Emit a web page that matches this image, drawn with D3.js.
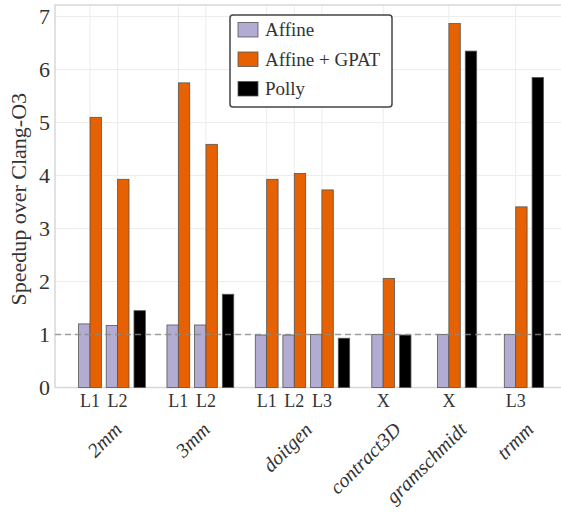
<!DOCTYPE html>
<html>
<head>
<meta charset="utf-8">
<script src="https://cdn.jsdelivr.net/npm/d3@7"></script>
<style>
  body { margin: 0; background: #fff; }
  text { font-family: "Liberation Serif", "DejaVu Serif", serif; fill: #333; }
</style>
</head>
<body>
<svg id="chart"></svg>
<script>
// benchmarks and their tile configurations
var groups = ["2mm", "3mm", "doitgen", "contract3D", "gramschmidt", "trmm"];
var configs = ["L1", "L2", "L1", "L2", "L1", "L2", "L3", "X", "X", "L3"];
var configGroup = [0, 0, 1, 1, 2, 2, 2, 3, 4, 5];
// x position of each config tick (units = spacing between two configs)
var configPos = [0, 1, 3.2, 4.2, 6.4, 7.4, 8.4, 10.62, 13.0, 15.42];
var pollyOffset = 0.8;

// speedup values
var affine = [1.2, 1.17, 1.18, 1.18, 0.99, 0.99, 1.0, 1.0, 1.0, 1.0];
var affineGpat = [5.1, 3.93, 5.75, 4.59, 3.93, 4.04, 3.73, 2.06, 6.87, 3.41];
var polly = [1.45, 1.76, 0.93, 0.99, 6.35, 5.85];

var yTicks = [0, 1, 2, 3, 4, 5, 6, 7];
var seriesNames = ["Affine", "Affine + GPAT", "Polly"];
var colors = ["#b2abd2", "#e66101", "#000000"];

var width = 561, height = 516;
var plot = { left: 55, right: 562, top: 5, bottom: 387.5 };

var svg = d3.select("#chart")
  .attr("width", width)
  .attr("height", height);

var x = d3.scaleLinear()
  .domain([0, 15.42])
  .range([90, 515.7]);

var y = d3.scaleLinear()
  .domain([0, 7.22])
  .range([plot.bottom, plot.top]);

var barW = x(0.413) - x(0);

// grid
svg.append("g")
  .selectAll("line")
  .data(yTicks)
  .enter().append("line")
  .attr("x1", plot.left).attr("x2", plot.right)
  .attr("y1", d => y(d)).attr("y2", d => y(d))
  .style("stroke", "#ececec")
  .style("stroke-width", 1);

svg.append("g")
  .selectAll("line")
  .data(configPos)
  .enter().append("line")
  .attr("x1", d => x(d)).attr("x2", d => x(d))
  .attr("y1", plot.top).attr("y2", plot.bottom)
  .style("stroke", "#ececec")
  .style("stroke-width", 1);

// frame
svg.append("path")
  .attr("d", "M" + plot.right + "," + plot.top + "H" + plot.left + "V" + plot.bottom + "H" + plot.right)
  .style("fill", "none")
  .style("stroke", "#d8d8d8")
  .style("stroke-width", 1.5);

// bars
var bars = svg.append("g");
bars.selectAll(".aff")
  .data(affine)
  .enter().append("rect")
  .attr("x", (d, i) => x(configPos[i]) - barW)
  .attr("y", d => y(d))
  .attr("width", barW)
  .attr("height", d => y(0) - y(d))
  .style("fill", colors[0])
  .style("stroke", "#555")
  .style("stroke-width", 0.8);

bars.selectAll(".gpat")
  .data(affineGpat)
  .enter().append("rect")
  .attr("x", (d, i) => x(configPos[i]))
  .attr("y", d => y(d))
  .attr("width", barW)
  .attr("height", d => y(0) - y(d))
  .style("fill", colors[1])
  .style("stroke", "#555")
  .style("stroke-width", 0.8);

// polly bar sits after the last config of each group
var lastPos = groups.map((g, gi) => d3.max(configPos.filter((p, i) => configGroup[i] === gi)));
var firstPos = groups.map((g, gi) => d3.min(configPos.filter((p, i) => configGroup[i] === gi)));

bars.selectAll(".polly")
  .data(polly)
  .enter().append("rect")
  .attr("x", (d, i) => x(lastPos[i] + pollyOffset) - barW / 2)
  .attr("y", d => y(d))
  .attr("width", barW)
  .attr("height", d => y(0) - y(d))
  .style("fill", colors[2])
  .style("stroke", "#555")
  .style("stroke-width", 0.8);

// baseline speedup of 1
svg.append("line")
  .attr("x1", plot.left).attr("x2", plot.right)
  .attr("y1", y(1)).attr("y2", y(1))
  .style("stroke", "#8a8a8a")
  .style("stroke-opacity", 0.8)
  .style("stroke-width", 1.5)
  .style("stroke-dasharray", "6,4");

// y tick labels
svg.append("g")
  .selectAll("text")
  .data(yTicks)
  .enter().append("text")
  .attr("x", 50)
  .attr("y", d => y(d))
  .attr("dy", "0.35em")
  .style("text-anchor", "end")
  .style("font-size", "22px")
  .text(d => d);

// y axis label
svg.append("text")
  .attr("transform", "translate(26," + ((plot.top + plot.bottom) / 2 + 3) + ") rotate(-90)")
  .style("text-anchor", "middle")
  .style("font-size", "22px")
  .text("Speedup over Clang-O3");

// config tick labels
svg.append("g")
  .selectAll("text")
  .data(configs)
  .enter().append("text")
  .attr("x", (d, i) => x(configPos[i]))
  .attr("y", 407)
  .style("text-anchor", "middle")
  .style("font-size", "18px")
  .text(d => d);

// group labels
svg.append("g")
  .selectAll("text")
  .data(groups)
  .enter().append("text")
  .attr("transform", (d, i) => {
    var cx = (x(firstPos[i]) - barW + x(lastPos[i] + pollyOffset) + barW / 2) / 2;
    return "translate(" + (cx + 1) + ",421) rotate(-45)";
  })
  .attr("dy", "0.7em")
  .style("text-anchor", "end")
  .style("font-style", "italic")
  .style("font-size", "20px")
  .text(d => d);

// legend
var legend = svg.append("g");
legend.append("rect")
  .attr("x", 230).attr("y", 15)
  .attr("width", 162).attr("height", 92)
  .attr("rx", 3)
  .style("fill", "#fff")
  .style("stroke", "#444")
  .style("stroke-width", 1.5);

legend.selectAll(".sw")
  .data(seriesNames)
  .enter().append("rect")
  .attr("x", 238)
  .attr("y", (d, i) => 22.5 + i * 29.5)
  .attr("width", 20)
  .attr("height", 14.5)
  .style("fill", (d, i) => colors[i])
  .style("stroke", "#555")
  .style("stroke-width", 0.8);

legend.selectAll(".lab")
  .data(seriesNames)
  .enter().append("text")
  .attr("x", 265)
  .attr("y", (d, i) => 29.8 + i * 29.5)
  .attr("dy", "0.35em")
  .style("font-size", "19px")
  .text(d => d);
</script>
</body>
</html>
